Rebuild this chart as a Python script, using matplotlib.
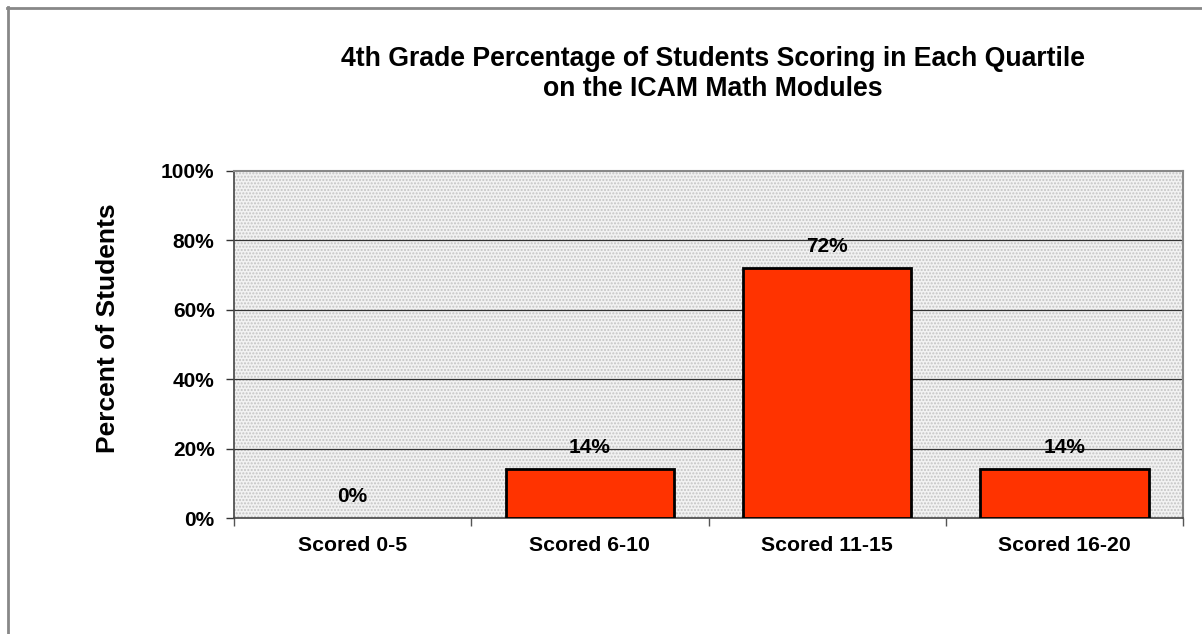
import matplotlib
matplotlib.use("Agg")
import matplotlib.pyplot as plt
from matplotlib.lines import Line2D

categories = ["Scored 0-5", "Scored 6-10", "Scored 11-15", "Scored 16-20"]
values = [0, 14, 72, 14]
yticks = [0, 20, 40, 60, 80, 100]
title = "4th Grade Percentage of Students Scoring in Each Quartile\non the ICAM Math Modules"

plt.rcParams['font.family'] = ['Liberation Sans', 'DejaVu Sans']
plt.rcParams['hatch.linewidth'] = 1.0

fig = plt.figure(figsize=(12.02, 6.34), dpi=100)
ax = fig.add_axes([234/1202, 1-518/634, (1183-234)/1202, (518-171)/634])

ax.set_facecolor('#f2f2f2')
ax.patch.set_hatch('.....')
ax.patch.set_edgecolor('#c4c4c4')

x = list(range(len(categories)))
ax.set_xlim(-0.5, len(categories) - 0.5)
ax.set_ylim(0, 100)

for v in yticks[1:-1]:
    ax.axhline(v, color='#333333', lw=0.9, zorder=1)

ax.bar(x, values, width=0.71, color='#ff3300', edgecolor='black',
       linewidth=[2 if v > 0 else 0 for v in values], zorder=3)
for xi, v in zip(x, values):
    ax.text(xi, v + 6.3, f"{v}%", ha='center', va='center', fontsize=15, fontweight='bold', zorder=4)

ax.set_yticks(yticks)
ax.set_yticklabels([f"{v}%" for v in yticks], fontsize=15, fontweight='bold')
ax.set_xticks(x)
ax.set_xticklabels(categories, fontsize=15.3, fontweight='bold')
ax.set_xticks([i + 0.5 for i in range(-1, len(categories))], minor=True)
ax.tick_params(axis='x', which='major', length=0, pad=13)
ax.tick_params(axis='x', which='minor', length=6, width=1, color='#555555', direction='out')
ax.tick_params(axis='y', length=6, width=1, color='#333333', direction='out', pad=8)

for s in ['top', 'right']:
    ax.spines[s].set_color('#888888')
    ax.spines[s].set_linewidth(1.5)
for s in ['left', 'bottom']:
    ax.spines[s].set_color('#444444')
    ax.spines[s].set_linewidth(1.2)

fig.text(108/1202, 1 - 328/634, "Percent of Students", rotation=90, ha='center', va='center',
         fontsize=19, fontweight='bold')

fig.text(713/1202, 1 - 74/634, title, ha='center', va='center', fontsize=19.2,
         fontweight='bold', linespacing=1.2)

# figure border (top and left visible)
fig.add_artist(Line2D([7/1202, 1.01], [1-7.5/634, 1-7.5/634], color='#888888', lw=2, transform=fig.transFigure))
fig.add_artist(Line2D([7.5/1202, 7.5/1202], [-0.01, 1-7/634], color='#888888', lw=2, transform=fig.transFigure))

fig.savefig("out.png", dpi=100)
